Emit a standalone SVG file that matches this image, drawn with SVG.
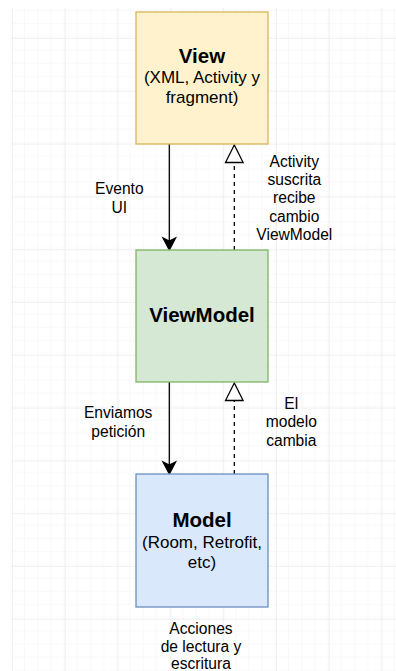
<svg xmlns="http://www.w3.org/2000/svg" width="396" height="671" viewBox="0 0 396 671">
<style>
.node rect{stroke-width:1.3}
.t{font-family:"Liberation Sans",Arial,Helvetica,sans-serif;fill:#000;text-anchor:middle}
.b{font-weight:bold;font-size:20.5px}
.s{font-size:17px}
.l{font-size:15.6px}
.edge{stroke:#000;stroke-width:1.3;fill:none}
.dash{stroke-dasharray:4 4}
</style>
<defs>
<pattern id="minor" patternUnits="userSpaceOnUse" x="12" y="-14.8" width="13.2" height="13.2">
<path d="M0 0H13.2M0 0V13.2" stroke="#f3f3f3" stroke-width="1" fill="none"/>
</pattern>
<pattern id="major" patternUnits="userSpaceOnUse" x="12" y="-14.8" width="52.8" height="52.8">
<rect width="52.8" height="52.8" fill="url(#minor)"/>
<path d="M0 0H52.8M0 0V52.8" stroke="#e4e4e4" stroke-width="1" fill="none"/>
</pattern>
</defs>
<rect width="396" height="671" fill="#fff"/>
<rect x="11.5" y="8" width="384.5" height="663" fill="url(#major)"/>
<g id="connectors">
<line class="edge" x1="169.3" y1="144" x2="169.3" y2="243"/>
<path d="M169.3 250L163 238L169.3 241L175.6 238Z" fill="#000" stroke="#000" stroke-width="1.3"/>
<line class="edge dash" x1="234.3" y1="250" x2="234.3" y2="162.5"/>
<path class="edge" d="M234.3 145L225.5 162.5H243.1Z" fill="#fff"/>
<line class="edge" x1="169.3" y1="382" x2="169.3" y2="467"/>
<path d="M169.3 474L163 462L169.3 465L175.6 462Z" fill="#000" stroke="#000" stroke-width="1.3"/>
<line class="edge dash" x1="234.3" y1="474" x2="234.3" y2="400.5"/>
<path class="edge" d="M234.3 383L225.5 400.5H243.1Z" fill="#fff"/>
<text class="t l" x="119.3" y="194">Evento</text>
<text class="t l" x="119.3" y="212.5">UI</text>
<text class="t l" x="294.3" y="166.5">Activity</text>
<text class="t l" x="294.3" y="185">suscrita</text>
<text class="t l" x="294.3" y="203.4">recibe</text>
<text class="t l" x="294.3" y="221.8">cambio</text>
<text class="t l" x="294.3" y="240.2">ViewModel</text>
<text class="t l" x="118.2" y="418.3">Enviamos</text>
<text class="t l" x="118.2" y="436.7">petición</text>
<text class="t l" x="291.3" y="409">El</text>
<text class="t l" x="291.3" y="427.4">modelo</text>
<text class="t l" x="291.3" y="445.8">cambia</text>
<text class="t l" x="201" y="633.5">Acciones</text>
<text class="t l" x="201" y="651.5">de lectura y</text>
<text class="t l" x="201" y="669">escritura</text>
</g>
<g id="view" class="node">
<rect x="136" y="12" width="132" height="132" fill="#fff2cc" stroke="#d6b656"/>
<text class="t b" x="202" y="63">View</text>
<text class="t s" x="202" y="83">(XML, Activity y</text>
<text class="t s" x="202" y="103">fragment)</text>
</g>
<g id="viewmodel" class="node">
<rect x="136" y="250" width="132" height="132" fill="#d5e8d4" stroke="#82b366"/>
<text class="t b" x="202" y="322">ViewModel</text>
</g>
<g id="model" class="node">
<rect x="136" y="474" width="132" height="133" fill="#dae8fc" stroke="#6c8ebf"/>
<text class="t b" x="202" y="527">Model</text>
<text class="t s" x="202" y="547.5">(Room, Retrofit,</text>
<text class="t s" x="202" y="567.5">etc)</text>
</g>
</svg>
